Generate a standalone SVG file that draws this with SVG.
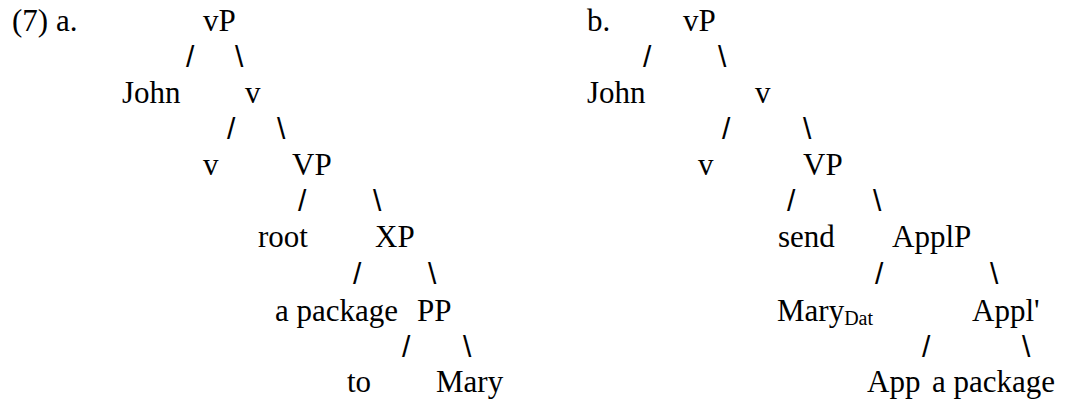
<svg xmlns="http://www.w3.org/2000/svg" width="1068" height="406" viewBox="0 0 1068 406">
  <style>
    .lbl { font-family: "Liberation Serif", "Times New Roman", serif; font-size: 31px; fill: #000; }
    .sub { font-size: 20px; }
    .br  { font-family: "Liberation Sans", Arial, sans-serif; font-size: 30px; fill: #000; }
  </style>
  <rect width="1068" height="406" fill="#fff"/>

  <!-- (7a): vP shell with root + XP complement -->
  <g id="tree-a">
    <g id="a-num"><text class="lbl" x="12" y="31">(7) a.</text></g>
    <g id="a-vP"><text class="lbl" x="203" y="31">vP</text></g>
    <g id="a-John"><text class="lbl" x="122" y="103">John</text></g>
    <g id="a-vbar"><text class="lbl" x="245" y="103">v</text></g>
    <g id="a-v"><text class="lbl" x="203" y="175">v</text></g>
    <g id="a-VP"><text class="lbl" x="292" y="175">VP</text></g>
    <g id="a-root"><text class="lbl" x="258" y="247">root</text></g>
    <g id="a-XP"><text class="lbl" x="375" y="247">XP</text></g>
    <g id="a-package"><text class="lbl" x="275" y="321">a package</text></g>
    <g id="a-PP"><text class="lbl" x="417" y="321">PP</text></g>
    <g id="a-to"><text class="lbl" x="347" y="392">to</text></g>
    <g id="a-Mary"><text class="lbl" x="436" y="392">Mary</text></g>
  </g>

  <!-- (7b): vP shell with ApplP complement -->
  <g id="tree-b">
    <g id="b-num"><text class="lbl" x="587" y="31">b.</text></g>
    <g id="b-vP"><text class="lbl" x="683" y="31">vP</text></g>
    <g id="b-John"><text class="lbl" x="587" y="103">John</text></g>
    <g id="b-vbar"><text class="lbl" x="755" y="103">v</text></g>
    <g id="b-v"><text class="lbl" x="698" y="175">v</text></g>
    <g id="b-VP"><text class="lbl" x="803" y="175">VP</text></g>
    <g id="b-send"><text class="lbl" x="778" y="247">send</text></g>
    <g id="b-ApplP"><text class="lbl" x="892" y="247">ApplP</text></g>
    <g id="b-Mary"><text class="lbl" x="777" y="321">Mary<tspan class="sub" dy="4">Dat</tspan></text></g>
    <g id="b-Applbar"><text class="lbl" x="972" y="321">Appl'</text></g>
    <g id="b-App"><text class="lbl" x="867" y="392">App</text></g>
    <g id="b-package"><text class="lbl" x="932" y="392">a package</text></g>
  </g>

  <!-- branches, typed as slash characters -->
  <g id="connectors" class="br">
    <text x="186" y="67">/</text><text x="235" y="67">\</text>
    <text x="227" y="139">/</text><text x="277" y="139">\</text>
    <text x="298" y="211">/</text><text x="373" y="211">\</text>
    <text x="353" y="284">/</text><text x="428" y="284">\</text>
    <text x="402" y="357">/</text><text x="463" y="357">\</text>

    <text x="643" y="67">/</text><text x="718" y="67">\</text>
    <text x="722" y="139">/</text><text x="803" y="139">\</text>
    <text x="787" y="211">/</text><text x="873" y="211">\</text>
    <text x="875" y="284">/</text><text x="990" y="284">\</text>
    <text x="922" y="357">/</text><text x="1022" y="357">\</text>
  </g>
</svg>
